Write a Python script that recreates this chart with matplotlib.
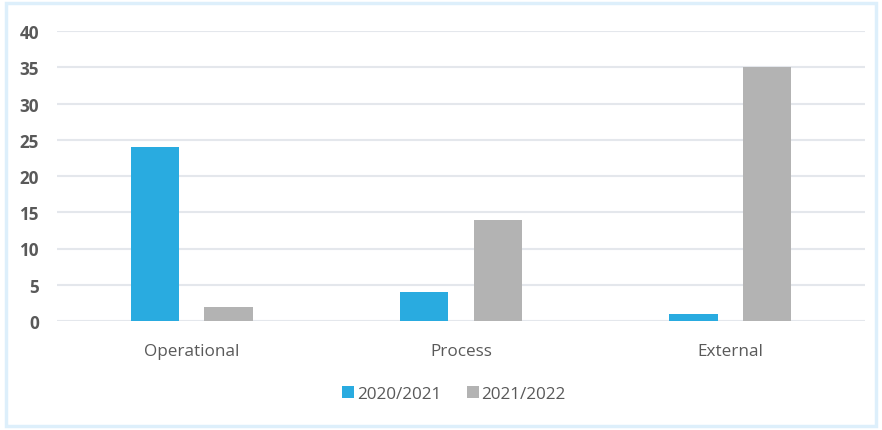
import matplotlib
matplotlib.use("Agg")
import matplotlib.pyplot as plt
from matplotlib.patches import Rectangle
import numpy as np

categories = ["Operational", "Process", "External"]
series_names = ["2020/2021", "2021/2022"]
values_2020_2021 = [24, 4, 1]
values_2021_2022 = [2, 14, 35]
y_ticks = [0, 5, 10, 15, 20, 25, 30, 35, 40]

colors = ["#29ABE0", "#B3B3B3"]
text_color = "#595959"

plt.rcParams["font.family"] = ["Open Sans", "DejaVu Sans"]

fig = plt.figure(figsize=(8.82, 4.31), dpi=100)
fig.patch.set_facecolor("white")

# light frame around the chart
fig.add_artist(Rectangle((6 / 882, 4 / 431), 870 / 882, 423 / 431,
                         transform=fig.transFigure, fill=False,
                         edgecolor="#DDEFFB", linewidth=2.5))

ax = fig.add_axes([57 / 882, 1 - 322 / 431, 808 / 882, 290 / 431])
x = np.arange(len(categories))
w = 0.18
off = 0.137
ax.bar(x - off, values_2020_2021, width=w, color=colors[0], label=series_names[0], zorder=3)
ax.bar(x + off, values_2021_2022, width=w, color=colors[1], label=series_names[1], zorder=3)

ax.set_xlim(-0.5, 2.5)
ax.set_ylim(0, 40)
ax.set_yticks(y_ticks)
ax.set_yticklabels([str(t) for t in y_ticks], fontsize=12.3, fontweight="bold", color=text_color)
ax.set_xticks(x)
ax.set_xticklabels(categories, fontsize=12.3, color=text_color)
ax.tick_params(axis="both", length=0)
ax.tick_params(axis="y", pad=13)
ax.tick_params(axis="x", pad=16)
ax.grid(axis="y", color="#E4E7EC", linewidth=1.5, zorder=0)
for s in ax.spines.values():
    s.set_visible(False)

fig.legend(loc="center", bbox_to_anchor=(454 / 882, 1 - 395 / 431), ncol=2,
           frameon=False, fontsize=12.3, handlelength=0.7, handleheight=0.7,
           handletextpad=0.15, columnspacing=1.5, labelcolor=text_color)

fig.savefig("out.png", dpi=100, facecolor="white")
